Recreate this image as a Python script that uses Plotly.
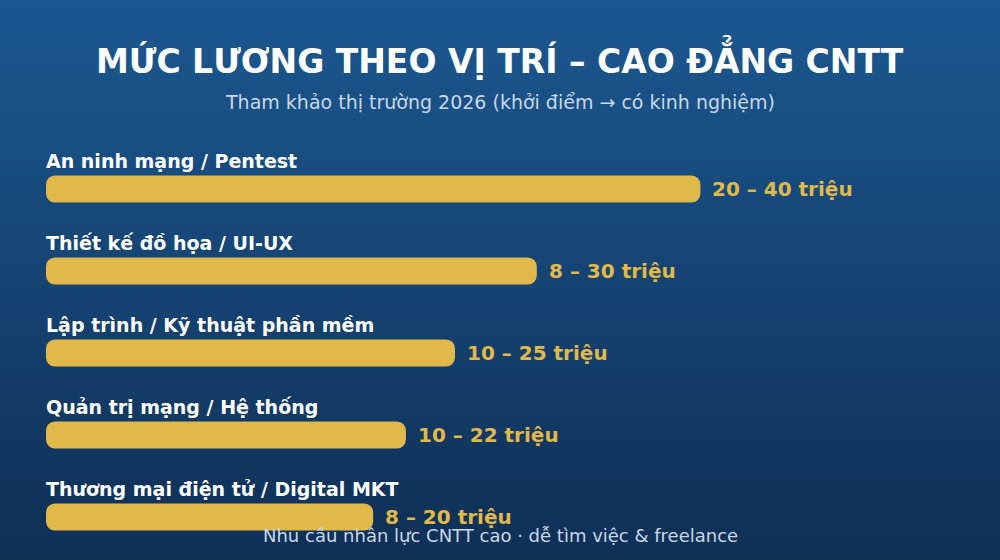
import plotly.graph_objects as go

# mức lương theo vị trí (triệu đồng / tháng)
roles = [
    "An ninh mạng / Pentest",
    "Thiết kế đồ họa / UI-UX",
    "Lập trình / Kỹ thuật phần mềm",
    "Quản trị mạng / Hệ thống",
    "Thương mại điện tử / Digital MKT",
]
salary_min = [20, 8, 10, 10, 8]
salary_max = [40, 30, 25, 22, 20]

title = "MỨC LƯƠNG THEO VỊ TRÍ – CAO ĐẲNG CNTT"
subtitle = "Tham khảo thị trường 2026 (khởi điểm → có kinh nghiệm)"
footer = "Nhu cầu nhân lực CNTT cao · dễ tìm việc & freelance"

font = "DejaVu Sans"
gold = "#e1b84a"

fig = go.Figure()
# base đặt rõ ràng -> plotly bo tròn cả hai đầu thanh
fig.add_trace(go.Bar(
    y=roles, x=salary_max, base=[0] * len(roles), orientation="h", width=0.33,
    marker=dict(color=gold, cornerradius=9, line_width=0),
    hovertemplate="%{y}: %{x} triệu<extra></extra>",
))

annotations = []
for role, lo, hi in zip(roles, salary_min, salary_max):
    annotations.append(dict(
        x=0, y=role, xref="x", yref="y", text=f"<b>{role}</b>",
        xanchor="left", yanchor="middle", xshift=-2, yshift=28, showarrow=False,
        font=dict(family=font, size=19, color="white"),
    ))
    annotations.append(dict(
        x=hi, y=role, xref="x", yref="y", text=f"<b>{lo} – {hi} triệu</b>",
        xanchor="left", yanchor="middle", xshift=10, showarrow=False,
        font=dict(family=font, size=20, color=gold),
    ))

annotations += [
    dict(x=0.5, y=1 - 58 / 560, xref="paper", yref="paper", text=f"<b>{title}</b>",
         showarrow=False, xanchor="center", yanchor="middle",
         font=dict(family=font, size=33, color="white")),
    dict(x=0.5, y=1 - 102 / 560, xref="paper", yref="paper", text=subtitle,
         showarrow=False, xanchor="center", yanchor="middle",
         font=dict(family=font, size=19, color="#c9d8ea")),
    dict(x=0.5, y=1 - 535 / 560, xref="paper", yref="paper", text=footer,
         showarrow=False, xanchor="center", yanchor="middle",
         font=dict(family=font, size=18, color="#c9d8ea")),
]

# nền gradient dọc
top_rgb = (27, 88, 144)
bot_rgb = (15, 47, 85)
n = 70
shapes = []
for i in range(n):
    t = i / (n - 1)
    c = tuple(round(a + (b - a) * t) for a, b in zip(top_rgb, bot_rgb))
    shapes.append(dict(
        type="rect", xref="paper", yref="paper", layer="below",
        x0=0, x1=1, y0=1 - (i + 1) / n - 0.002, y1=1 - i / n,
        fillcolor=f"rgb{c}", line_width=0,
    ))

fig.update_layout(
    width=1000, height=560,
    margin=dict(l=0, r=0, t=0, b=0),
    paper_bgcolor="rgb(21,67,115)",
    plot_bgcolor="rgba(0,0,0,0)",
    showlegend=False,
    xaxis=dict(domain=[0.046, 0.954], range=[0, 55.5], visible=False, fixedrange=True),
    yaxis=dict(domain=[2 / 560, 412 / 560], range=[4.5, -0.5], visible=False, fixedrange=True),
    annotations=annotations,
    shapes=shapes,
    font=dict(family=font),
)

fig.write_html(
    "out.html",
    config={"displayModeBar": False},
    post_script="document.body.style.margin='0';document.body.style.overflow='hidden';",
)
